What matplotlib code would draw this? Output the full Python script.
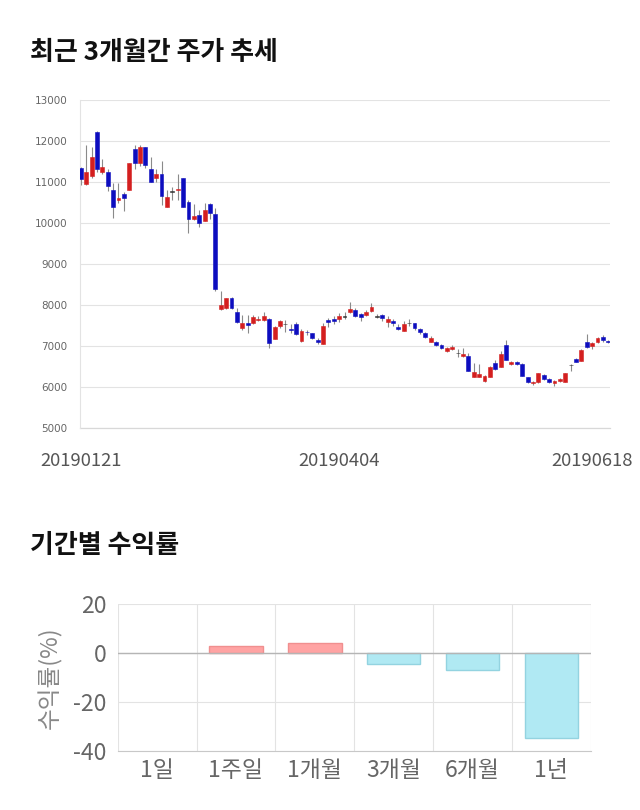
import numpy as np
import matplotlib
matplotlib.use('Agg')
from matplotlib import pyplot as plt

plt.rcParams['font.family'] = ['Noto Sans CJK KR', 'DejaVu Sans']

# daily candles, 2019-01-21 .. 2019-06-18
opens = [11330, 10950, 11150, 12220, 11255, 11255, 10805, 10550, 10705, 10805,
         11805, 11455, 11850, 11310, 11105, 11200, 10400, 10765, 10800, 11105,
         10505, 10100, 10200, 10060, 10465, 10210, 7900, 7920, 8180, 7840,
         7430, 7570, 7570, 7640, 7640, 7650, 7165, 7490, 7525, 7400,
         7540, 7120, 7350, 7310, 7145, 7045, 7635, 7660, 7650, 7715,
         7840, 7880, 7780, 7750, 7860, 7715, 7755, 7595, 7610, 7465,
         7365, 7555, 7555, 7415, 7310, 7105, 7105, 7025, 6885, 6920,
         6820, 6755, 6755, 6255, 6255, 6155, 6255, 6580, 6500, 7025,
         6555, 6620, 6560, 6235, 6090, 6115, 6290, 6190, 6105, 6145,
         6130, 6525, 6685, 6640, 7105, 7000, 7105, 7215, 7130]
highs = [11360, 11900, 11860, 12240, 11570, 11320, 10970, 10985, 10765, 11460,
         11900, 11900, 11860, 11620, 11320, 11510, 10805, 10890, 11200, 11105,
         10560, 10465, 10320, 10500, 10500, 10360, 8340, 8160, 8190, 7935,
         7760, 7760, 7760, 7730, 7830, 7690, 7490, 7640, 7630, 7540,
         7580, 7420, 7400, 7310, 7190, 7560, 7680, 7720, 7815, 7840,
         8080, 7920, 7800, 7870, 8040, 7790, 7790, 7720, 7660, 7530,
         7620, 7650, 7570, 7430, 7330, 7240, 7120, 7040, 6980, 7030,
         6920, 6945, 6840, 6580, 6555, 6290, 6520, 6650, 6880, 7145,
         6640, 6640, 6580, 6250, 6150, 6350, 6310, 6210, 6160, 6210,
         6345, 6570, 6700, 6920, 7290, 7090, 7210, 7260, 7150]
lows = [10930, 10930, 11100, 11250, 11200, 10770, 10115, 10480, 10300, 10800,
        11325, 11400, 11330, 10990, 11000, 10440, 10380, 10570, 10570, 10390,
        9750, 10080, 9900, 10040, 10100, 8330, 7880, 7900, 7910, 7550,
        7400, 7310, 7540, 7600, 7620, 6945, 7160, 7450, 7340, 7310,
        7270, 7110, 7280, 7160, 7060, 7040, 7470, 7540, 7590, 7650,
        7800, 7700, 7620, 7730, 7840, 7690, 7620, 7460, 7500, 7380,
        7360, 7480, 7400, 7300, 7190, 7090, 7000, 6920, 6860, 6900,
        6720, 6740, 6390, 6240, 6240, 6110, 6240, 6420, 6490, 6650,
        6530, 6540, 6270, 6090, 6040, 6100, 6170, 6100, 6030, 6130,
        6120, 6400, 6610, 6630, 6960, 6920, 7080, 7100, 7080]
closes = [11070, 11250, 11600, 11310, 11360, 10905, 10400, 10600, 10600, 11455,
          11455, 11850, 11405, 11010, 11200, 10660, 10645, 10765, 10810, 10400,
          10110, 10160, 10010, 10310, 10250, 8380, 7990, 8160, 7920, 7580,
          7555, 7520, 7710, 7670, 7730, 7080, 7455, 7600, 7525, 7385,
          7285, 7370, 7330, 7200, 7090, 7490, 7595, 7620, 7730, 7715,
          7895, 7730, 7715, 7830, 7960, 7715, 7675, 7650, 7555, 7410,
          7540, 7555, 7430, 7335, 7215, 7190, 7025, 6945, 6950, 6985,
          6820, 6795, 6400, 6375, 6315, 6270, 6500, 6440, 6805, 6660,
          6620, 6560, 6280, 6115, 6130, 6335, 6190, 6115, 6145, 6190,
          6335, 6525, 6620, 6900, 6985, 7065, 7190, 7145, 7100]
date_ticks = ['20190121', '20190404', '20190618']
date_tick_idx = [0, 48, 95]
price_ticks = [5000, 6000, 7000, 8000, 9000, 10000, 11000, 12000, 13000]

periods = ['1일', '1주일', '1개월', '3개월', '6개월', '1년']
returns = [0.0, 2.8, 4.1, -4.3, -7.0, -34.5]

UP = '#d41f1f'
DOWN = '#0d0dbf'
GRID = '#e3e3e3'


def plot_candles(ax):
    o = np.array(opens, dtype=float)
    h = np.array(highs, dtype=float)
    lo = np.array(lows, dtype=float)
    c = np.array(closes, dtype=float)
    xs = np.arange(len(o))
    colors = np.where(c > o, UP, np.where(c < o, DOWN, '#333333'))
    ax.vlines(xs, lo, h, color='#8a8a8a', linewidth=0.8, zorder=2)
    bottoms = np.minimum(o, c)
    heights = np.maximum(np.abs(c - o), 18)
    ax.bar(xs, heights, bottom=bottoms, width=0.72, color=colors,
           edgecolor=colors, linewidth=0.4, zorder=3)
    ax.set_xlim(-0.15, len(o) - 0.7)
    ax.set_ylim(5000, 13000)
    ax.set_yticks(price_ticks)
    ax.set_yticklabels([str(t) for t in price_ticks])
    ax.set_xticks(date_tick_idx)
    ax.set_xticklabels(date_ticks)
    ax.grid(axis='y', color=GRID, linewidth=0.8)
    for s in ['top', 'right', 'bottom']:
        ax.spines[s].set_visible(False)
    ax.spines['left'].set_color(GRID)
    ax.axhline(5000, color='#d8d8d8', linewidth=0.9, zorder=1, clip_on=False)
    ax.tick_params(axis='y', length=0, pad=9, labelsize=7.5, labelcolor='#666666')
    ax.tick_params(axis='x', length=0, pad=17, labelsize=13.3, labelcolor='#555555')
    for lab in ax.get_yticklabels():
        lab.set_family(['DejaVu Sans'])


def plot_returns(ax):
    xs = np.arange(len(periods))
    vals = np.array(returns)
    face = np.where(vals >= 0, '#ffa3a3', '#b0e9f3')
    edge = np.where(vals > 0, '#f08f8f', np.where(vals < 0, '#93d3e0', 'none'))
    ax.bar(xs, vals, width=0.68, color=face, edgecolor=edge, linewidth=1.0, zorder=3)
    ax.set_xlim(-0.5, len(periods) - 0.5)
    ax.set_ylim(-40, 20)
    ax.set_yticks([20, 0, -20, -40])
    ax.set_yticklabels(['20', '0', '-20', '-40'])
    ax.set_xticks(xs)
    ax.set_xticklabels(periods)
    ax.set_xticks(np.arange(len(periods) + 1) - 0.5, minor=True)
    ax.grid(axis='x', which='minor', color=GRID, linewidth=0.8)
    ax.grid(axis='y', which='major', color=GRID, linewidth=0.8)
    ax.axhline(0, color='#b5b5b5', linewidth=1.0, zorder=4)
    for s in ['top', 'right', 'left']:
        ax.spines[s].set_visible(False)
    ax.spines['bottom'].set_color('#c8c8c8')
    ax.tick_params(which='both', length=0)
    ax.tick_params(axis='y', pad=8, labelsize=16.5, labelcolor='#666666')
    ax.tick_params(axis='x', pad=6, labelsize=16.5, labelcolor='#666666')
    ax.set_ylabel('수익률(%)', fontsize=17, color='#888888', labelpad=8)


def main():
    fig = plt.figure(figsize=(6.4, 8.1), dpi=100)
    fig.text(0.047, 0.935, '최근 3개월간 주가 추세', fontsize=18.7,
             fontweight='bold', color='#111111', va='center')
    ax1 = fig.add_axes([0.125, 0.4716, 0.828, 0.4049])
    plot_candles(ax1)

    fig.text(0.047, 0.327, '기간별 수익률', fontsize=18.7,
             fontweight='bold', color='#111111', va='center')
    ax2 = fig.add_axes([0.184, 0.0728, 0.739, 0.1815])
    plot_returns(ax2)

    fig.savefig('out.png', dpi=100, facecolor='white')


if __name__ == '__main__':
    main()
